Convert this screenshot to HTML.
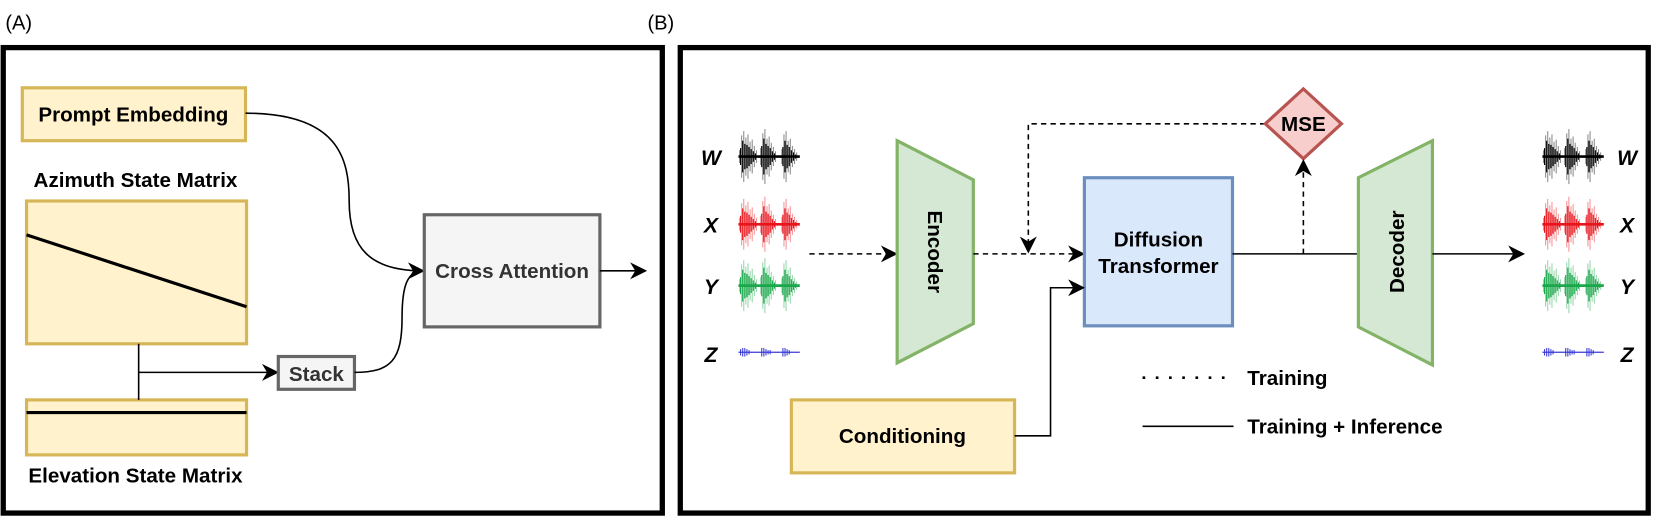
<!DOCTYPE html>
<html><head><meta charset="utf-8"><style>
html,body{margin:0;padding:0;background:#fff}
svg{display:block}
text{font-family:"Liberation Sans",Arial,sans-serif}
</style></head><body>
<svg width="1661" height="521" viewBox="0 0 1570 492.5" xmlns="http://www.w3.org/2000/svg">
<defs>
<marker id="arB" viewBox="0 0 10 10" refX="9" refY="5" markerWidth="16" markerHeight="16" markerUnits="userSpaceOnUse" orient="auto">
<path d="M0,0 L10,5 L0,10 L3,5 Z" fill="#000"/></marker>
<g id="wave">
<path d="M0 0H58" stroke-width="2.5"/>
<path d="M1 -6V6M3 -20V20M5 -24V24M7 -18V18M9 -21V21M11 -14V14M13 -16V16M15 -10V10M17 -6V6
M21 -8V8M23 -22V22M25 -26V26M27 -17V17M29 -19V19M31 -13V13M33 -9V9M35 -5V5
M41 -7V7M43 -21V21M45 -24V24M47 -15V15M49 -17V17M51 -10V10M53 -7V7M55 -4V4" stroke-width="1" opacity="0.45"/>
<path d="M2 -8V8M4 -15V15M6 -12V12M8 -11V11M10 -9V9M12 -7V7M14 -5V5M16 -3V3
M22 -10V10M24 -17V17M26 -12V12M28 -10V10M30 -8V8M32 -5V5M34 -3V3
M42 -9V9M44 -15V15M46 -11V11M48 -9V9M50 -6V6M52 -4V4M54 -2V2" stroke-width="1.1"/>
</g>
<g id="zw">
<path d="M0 0H58" stroke-width="1.2"/>
<path d="M2 -3V3M4 -4V4M6 -4V4M8 -3V3M10 -2V2M22 -4V4M24 -4V4M26 -3V3M28 -2V2M30 -2V2M42 -4V4M44 -4V4M46 -3V3M48 -2V2" stroke-width="1"/>
</g>
</defs>

<text x="5" y="28" font-size="19">(A)</text>
<text x="612" y="28" font-size="19">(B)</text>

<!-- Panel A -->
<rect x="3" y="45" width="623" height="440" fill="none" stroke="#000" stroke-width="5"/>
<rect x="21" y="83" width="211" height="50" fill="#fff2cc" stroke="#d6b656" stroke-width="3"/>
<text x="126" y="115" font-size="19.5" font-weight="bold" text-anchor="middle">Prompt Embedding</text>
<text x="128" y="177" font-size="19.5" font-weight="bold" text-anchor="middle">Azimuth State Matrix</text>
<rect x="25" y="190" width="208" height="135" fill="#fff2cc" stroke="#d6b656" stroke-width="3"/>
<line x1="25" y1="222" x2="233" y2="290" stroke="#000" stroke-width="3"/>
<rect x="25" y="378" width="208" height="52" fill="#fff2cc" stroke="#d6b656" stroke-width="3"/>
<line x1="25" y1="390" x2="233" y2="390" stroke="#000" stroke-width="3"/>
<text x="128" y="456" font-size="19.5" font-weight="bold" text-anchor="middle">Elevation State Matrix</text>
<path d="M131 325V378M131 352H262" stroke="#000" stroke-width="1.5" fill="none" marker-end="url(#arB)"/>
<rect x="263" y="337" width="72" height="31" fill="#f5f5f5" stroke="#666" stroke-width="3"/>
<text x="299" y="360" font-size="19.5" font-weight="bold" text-anchor="middle" fill="#333">Stack</text>
<path d="M232 107C320 107 330 150 330 190C330 235 350 256 400 256" stroke="#000" stroke-width="1.5" fill="none" marker-end="url(#arB)"/>
<path d="M335 352C370 352 380 340 380 300C380 270 385 256 400 256" stroke="#000" stroke-width="1.5" fill="none"/>
<rect x="401" y="203" width="166" height="106" fill="#f5f5f5" stroke="#666" stroke-width="3"/>
<text x="484" y="263" font-size="19.5" font-weight="bold" text-anchor="middle" fill="#333">Cross Attention</text>
<line x1="567" y1="256" x2="610" y2="256" stroke="#000" stroke-width="1.5" marker-end="url(#arB)"/>

<!-- Panel B -->
<rect x="643" y="45" width="915" height="440" fill="none" stroke="#000" stroke-width="5"/>
<g font-size="20" font-weight="bold" font-style="italic" text-anchor="middle">
<text x="672" y="156">W</text><text x="672" y="220">X</text><text x="672" y="278">Y</text><text x="672" y="342">Z</text>
<text x="1538" y="156">W</text><text x="1538" y="220">X</text><text x="1538" y="278">Y</text><text x="1538" y="342">Z</text>
</g>
<use href="#wave" x="698" y="148" stroke="#000"/>
<use href="#wave" x="698" y="212" stroke="#e8141c"/>
<use href="#wave" x="698" y="270" stroke="#19a84a"/>
<use href="#zw" x="698" y="333" stroke="#3a3ad6"/>
<use href="#wave" x="1458" y="148" stroke="#000"/>
<use href="#wave" x="1458" y="212" stroke="#e8141c"/>
<use href="#wave" x="1458" y="270" stroke="#19a84a"/>
<use href="#zw" x="1458" y="333" stroke="#3a3ad6"/>

<line x1="765" y1="240" x2="847" y2="240" stroke="#000" stroke-width="1.5" stroke-dasharray="5,4" marker-end="url(#arB)"/>
<polygon points="848,133 920,170 920,306 848,343" fill="#d5e8d4" stroke="#82b366" stroke-width="3"/>
<text transform="translate(877,238) rotate(90)" font-size="19.5" font-weight="bold" text-anchor="middle">Encoder</text>
<line x1="920" y1="240" x2="1024" y2="240" stroke="#000" stroke-width="1.5" stroke-dasharray="5,4" marker-end="url(#arB)"/>
<rect x="1025" y="168" width="140" height="140" fill="#dae8fc" stroke="#6c8ebf" stroke-width="3"/>
<text x="1095" y="233" font-size="19.5" font-weight="bold" text-anchor="middle">Diffusion</text>
<text x="1095" y="258" font-size="19.5" font-weight="bold" text-anchor="middle">Transformer</text>
<path d="M1196 117H972V238" stroke="#000" stroke-width="1.5" fill="none" stroke-dasharray="5,4" marker-end="url(#arB)"/>
<polygon points="1232,84 1268,117 1232,150 1196,117" fill="#f8cecc" stroke="#b85450" stroke-width="3"/>
<text x="1232" y="124" font-size="19.5" font-weight="bold" text-anchor="middle">MSE</text>
<line x1="1232" y1="240" x2="1232" y2="152" stroke="#000" stroke-width="1.5" stroke-dasharray="5,4" marker-end="url(#arB)"/>
<line x1="1165" y1="240" x2="1284" y2="240" stroke="#000" stroke-width="1.5"/>
<polygon points="1284,168 1354,133 1354,345 1284,309" fill="#d5e8d4" stroke="#82b366" stroke-width="3"/>
<text transform="translate(1327,238) rotate(-90)" font-size="19.5" font-weight="bold" text-anchor="middle">Decoder</text>
<line x1="1354" y1="240" x2="1440" y2="240" stroke="#000" stroke-width="1.5" marker-end="url(#arB)"/>
<rect x="748" y="378" width="211" height="69" fill="#fff2cc" stroke="#d6b656" stroke-width="3"/>
<text x="853" y="419" font-size="19.5" font-weight="bold" text-anchor="middle">Conditioning</text>
<path d="M959 412H993V272H1024" stroke="#000" stroke-width="1.5" fill="none" marker-end="url(#arB)"/>
<line x1="1080" y1="357" x2="1166" y2="357" stroke="#000" stroke-width="2.5" stroke-dasharray="2.5,10"/>
<text x="1179" y="364" font-size="19.5" font-weight="bold">Training</text>
<line x1="1080" y1="403" x2="1166" y2="403" stroke="#000" stroke-width="1.5"/>
<text x="1179" y="410" font-size="19.5" font-weight="bold">Training + Inference</text>
</svg>
</body></html>
